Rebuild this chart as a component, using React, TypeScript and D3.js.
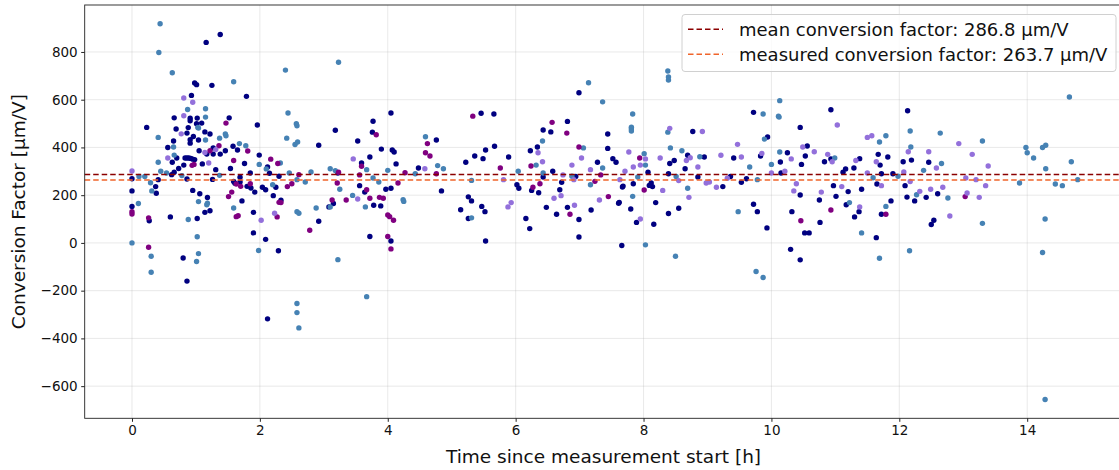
import React, { useEffect, useRef } from 'react';
import * as d3 from 'd3';

// [time in h, conversion factor in µm/V]
const navyPoints: [number, number][] = [
  [1.38,873],[1.16,840],[0.98,670],[1.01,663],[1.25,660],[1.79,614],[0.93,618],[0.66,524],[0.91,522],[0.91,512],
  [1.02,523],[1.52,524],[1.96,494],[0.23,484],[0.69,477],[0.88,483],[1.01,499],[1.09,502],[0.86,460],[1.14,465],
  [1.22,456],[0.96,446],[0.91,432],[0.91,418],[1.04,431],[0.65,427],[0.56,400],[1.58,405],[1.65,389],[1.27,398],
  [1.05,386],[1.17,372],[1.27,372],[1.38,372],[1.46,386],[1.99,368],[0.70,356],[0.83,356],[0.86,356],[0.89,356],
  [0.92,354],[0.95,351],[0.98,349],[0.63,338],[1.76,333],[0.81,326],[1.10,331],[0.73,312],[0.66,296],[1.54,312],
  [1.31,307],[1.26,266],[1.85,293],[2.12,318],[2.15,292],[0,269],[0.62,286],[0.86,268],[0.41,265],[0.37,236],
  [0.38,208],[0,218],[1.59,257],[1.61,250],[1.69,255],[1.69,275],[1.80,237],[1.86,230],[1.92,213],[2.04,233],
  [2.09,223],[2.21,198],[0.95,220],[1.06,206],[1.18,190],[0,153],[0.27,93],[0.60,109],[1.02,102],[1.14,128],
  [1.22,135],[1.72,176],[1.90,128],[1.90,42],[2.09,15],[2.29,-33],[0.80,-63],[0.86,-160],[2.12,-318],
  [3.18,472],[2.92,409],[2.30,279],[2.25,233],[2.33,179],[2.92,91],[3.22,293],[3.15,165],[3.08,151],[3.53,427],
  [3.59,335],[3.72,360],[3.76,464],[3.77,510],[3.56,240],[3.64,213],[3.78,158],[3.89,155],[3.72,27],[3.90,393],
  [4.05,544],[4.07,389],[4.10,381],[4.13,331],[3.97,225],[4.05,229],[4.05,8],[4.48,314],[4.76,431],[4.84,218],
  [5.22,338],[5.14,139],[5.26,193],[5.26,102],
  [5.46,543],[5.66,540],[5.36,364],[5.49,353],[5.53,389],[5.67,405],[5.89,360],[5.31,176],[5.47,153],[5.52,131],
  [5.53,8],[6.02,244],[6.05,229],[6.16,102],[6.22,60],[6.23,386],[6.34,402],[6.25,220],[6.36,210],[6.43,473],
  [6.43,276],[6.48,149],[6.55,465],[6.58,300],[6.64,120],[6.69,223],[6.72,254],[6.81,509],[6.81,149],[6.94,278],
  [6.99,629],[6.99,98],[6.99,25],[7.18,138],[7.28,338],[7.44,456],[7.44,396],[7.52,353],[7.57,338],[7.67,234],
  [7.68,238],[7.61,166],[7.62,170],[7.66,-11],[7.84,248],[7.80,142],[7.89,86],[8.07,296],[8.09,241],[8.12,251],
  [8.14,236],[8.16,78],[8.19,169],
  [8.41,333],[8.48,345],[8.39,290],[8.39,123],[8.55,145],[8.65,311],[8.69,367],[8.77,467],[8.85,276],[8.95,360],
  [9.24,236],[9.36,278],[9.41,356],[9.53,254],[9.61,269],[9.72,547],[9.72,162],[9.78,131],[9.83,364],[9.94,444],
  [9.93,63],[10.14,339],[10.15,293],[10.25,378],[10.32,131],[10.30,-27],[10.45,201],[10.45,484],[10.45,-71],[10.47,329],
  [10.56,406],[10.53,364],[10.52,42],[10.59,42],[10.76,86],[10.75,180],[10.83,340],[10.93,558],[10.93,352],[10.97,240],
  [11.01,195],[11.12,296],[11.16,310],[11.20,215],[11.17,160],
  [11.29,314],[11.38,353],[11.41,225],[11.30,109],[11.37,131],[11.64,22],[11.67,371],[11.70,326],[11.72,290],[11.65,247],
  [11.82,360],[11.87,176],[11.72,120],[11.90,290],[12.06,340],[12.13,554],[12.19,347],[12.09,240],[12.12,192],[12.24,176],
  [12.42,191],[12.46,338],[12.50,77],[12.54,95],[12.60,206],
];

const steelPoints: [number, number][] = [
  [0.44,918],[0.42,798],[0.63,713],[1.59,675],[0.87,559],[1.15,562],[1.15,527],[1.03,484],[1.04,481],[1.15,431],
  [1.37,439],[1.46,456],[1.47,449],[0.41,442],[0.65,402],[1.68,416],[1.78,407],[0.66,368],[0.41,338],[1.99,329],
  [1.37,283],[2.10,310],[0.11,278],[0.20,278],[0.45,300],[0.54,293],[0.78,282],[0.29,252],[0.31,218],[2.20,244],
  [1.04,173],[1.17,160],[1.18,166],[0.10,165],[0.88,98],[1.59,146],[1.98,-32],[1.02,26],[0,0],[0.30,-56],
  [0.30,-123],[1.04,-45],[1.01,-78],
  [2.40,724],[3.23,757],[2.44,544],[2.57,499],[2.58,491],[2.42,439],[2.55,412],[2.59,423],[2.32,335],[2.46,293],
  [2.58,265],[2.71,255],[2.80,297],[2.58,131],[2.61,124],[2.88,146],[3.10,311],[3.18,303],[3.25,225],[3.10,151],
  [3.45,199],[3.67,307],[3.65,151],[3.67,-225],[3.22,-70],[2.58,-254],[2.58,-292],[2.61,-356],[3.77,272],[3.86,255],
  [4.00,304],[4.24,181],[4.25,174],[4.43,290],[4.59,445],[4.78,324],[4.87,311],
  [5.31,262],[5.31,105],[6.04,300],[6.32,326],[6.42,427],[6.43,293],[6.88,279],[7.06,398],[7.14,671],[7.17,244],
  [7.36,314],[7.36,591],[7.83,540],[7.81,485],[7.81,477],[7.81,469],[7.83,195],[7.91,276],[8.01,374],[8.03,326],
  [8.03,-8],
  [8.38,720],[8.39,695],[8.39,682],[8.38,464],[8.42,398],[8.51,278],[8.50,-56],[8.60,386],[8.69,229],[8.88,361],
  [9.48,131],[9.66,318],[9.76,-120],[9.78,265],[9.87,540],[9.87,-145],[9.89,435],[10.00,329],[10.13,596],[10.11,531],
  [10.12,527],[10.13,381],[10.99,356],[11.22,169],
  [11.41,42],[11.59,273],[11.69,423],[11.79,449],[11.79,153],[11.69,-64],[11.98,279],[12.17,469],[12.18,402],[12.16,-33],
  [12.27,202],[12.38,304],[12.66,333],[12.64,460],[12.76,188],[13.30,427],[13.30,82],[13.88,251],[13.98,400],[14.00,378],
  [14.10,356],
  [14.24,400],[14.29,409],[14.29,311],[14.28,100],[14.24,-40],[14.28,-656],[14.44,247],[14.55,240],[14.66,611],[14.69,340],
  [14.79,265],
];

const purplePoints: [number, number][] = [
  [1.47,502],[1.36,407],[1.81,385],[1.22,386],[1.59,345],[2.17,351],[2.28,333],[0.94,325],[0.97,329],[1.63,247],
  [1.70,237],[1.85,248],[1.56,213],[1.51,194],[2.30,170],[2.27,109],[0,131],[0,121],[0.26,105],[1.63,110],
  [1.66,114],[0.26,-18],
  [2.33,169],[2.61,286],[2.43,236],[2.50,248],[2.78,53],[3.23,296],[3.21,251],[3.13,180],[3.35,180],[3.59,321],
  [3.56,285],[3.82,453],[3.67,223],[3.72,187],[3.87,191],[3.93,187],[4.16,251],[4.00,117],[4.03,110],[4.09,95],
  [4.00,27],[4.05,-25],[4.27,294],[4.62,416],[4.59,378],[4.66,364],[4.76,290],
  [5.33,531],[5.76,314],[6.24,322],[6.27,233],[6.38,248],[6.57,505],[6.80,460],[6.85,120],[6.99,402],[7.24,258],
  [7.33,285],[7.45,194],[7.94,356],[8.01,222],
  [10.46,93],[10.93,138],[11.79,120],[13.03,194],
];

const lavenderPoints: [number, number][] = [
  [0.81,607],[0.95,589],[0.81,533],[0.77,457],[1.31,391],[1.14,379],[0.56,356],[1.20,335],[0,301],[2.23,124],
  [2.02,95],[3.46,352],[3.53,184],[4.58,311],
  [5.81,265],[5.88,151],[5.93,169],[6.35,378],[6.42,340],[6.60,187],[6.71,198],[6.74,285],[6.88,326],[6.91,265],
  [6.92,158],[7.03,356],[7.17,307],[7.31,180],[7.63,265],[7.71,300],[7.77,381],[7.84,318],[7.95,100],[7.95,326],
  [8.03,352],[8.26,356],
  [8.41,480],[8.30,220],[8.55,261],[8.67,345],[8.73,357],[8.71,191],[8.85,318],[8.92,467],[8.98,251],[9.03,255],
  [9.14,233],[9.21,367],[9.31,271],[9.47,413],[9.53,360],[9.85,375],[10.00,293],[10.21,300],[10.31,352],[10.35,218],
  [10.39,248],[10.49,402],[10.67,382],[10.78,213],[10.88,371],[10.95,340],[11.03,494],[11.10,236],
  [11.32,345],[11.38,151],[11.50,442],[11.57,449],[11.50,293],[11.64,340],[11.72,240],[12.14,382],[12.07,297],[12.17,257],
  [12.32,216],[12.46,382],[12.49,225],[12.58,314],[12.68,233],[12.79,113],[12.93,416],[13.06,209],[13.04,272],[13.14,371],
  [13.20,265],[13.25,191],[13.35,240],[13.39,322],
];

const meanFactor = 286.8;
const measuredFactor = 263.7;
const xTicks = [0, 2, 4, 6, 8, 10, 12, 14];
const yTicks = [-600, -400, -200, 0, 200, 400, 600, 800];

const series = [
  { points: navyPoints, color: '#000080' },
  { points: steelPoints, color: '#4682b4' },
  { points: purplePoints, color: '#800080' },
  { points: lavenderPoints, color: '#9370db' },
];

const FONT = '"DejaVu Sans", sans-serif';

const App = () => {
  const svgRef = useRef<SVGSVGElement>(null);

  useEffect(() => {
    document.body.style.margin = '0';
    const W = 1119;
    const H = 470;
    const left = 84.7, right = 1125, top = 5, bottom = 418.3;

    const svg = d3.select(svgRef.current);
    svg.selectAll('*').remove();
    svg.attr('width', W).attr('height', H);

    const all = series.flatMap(s => s.points);
    const xMin = d3.min(all, d => d[0])!, xMax = d3.max(all, d => d[0])!;
    const yMin = d3.min(all, d => d[1])!, yMax = d3.max(all, d => d[1])!;
    const xPad = (xMax - xMin) * 0.05, yPad = (yMax - yMin) * 0.05;

    const x = d3.scaleLinear().domain([xMin - xPad, xMax + xPad]).range([left, right]);
    const y = d3.scaleLinear().domain([yMin - yPad, yMax + yPad]).range([bottom, top]);

    // gridlines
    const grid = svg.append('g');
    grid.selectAll('line.gx').data(xTicks).enter().append('line')
      .attr('x1', d => x(d)).attr('x2', d => x(d)).attr('y1', top).attr('y2', bottom)
      .attr('stroke', '#b0b0b0').attr('stroke-opacity', 0.35).attr('stroke-width', 0.8);
    grid.selectAll('line.gy').data(yTicks).enter().append('line')
      .attr('x1', left).attr('x2', right).attr('y1', d => y(d)).attr('y2', d => y(d))
      .attr('stroke', '#b0b0b0').attr('stroke-opacity', 0.35).attr('stroke-width', 0.8);

    // points
    series.forEach(s => {
      svg.append('g').selectAll('circle').data(s.points).enter().append('circle')
        .attr('cx', d => x(d[0])).attr('cy', d => y(d[1])).attr('r', 2.7)
        .attr('fill', s.color);
    });

    // reference lines
    const refs = [
      { v: meanFactor, color: '#8b0000', label: `mean conversion factor: ${meanFactor} µm/V` },
      { v: measuredFactor, color: '#f0642a', label: `measured conversion factor: ${measuredFactor} µm/V` },
    ];
    refs.forEach(r => {
      svg.append('line')
        .attr('x1', left).attr('x2', right).attr('y1', y(r.v)).attr('y2', y(r.v))
        .attr('stroke', r.color).attr('stroke-width', 1.5).attr('stroke-dasharray', '5.5 3');
    });

    // spines
    svg.append('rect')
      .attr('x', left).attr('y', top).attr('width', right - left).attr('height', bottom - top)
      .attr('fill', 'none').attr('stroke', '#222').attr('stroke-width', 0.9);

    // axes
    const xAxis = svg.append('g').attr('transform', `translate(0,${bottom})`)
      .call(d3.axisBottom(x).tickValues(xTicks).tickSize(3.5).tickPadding(3.5).tickFormat(d3.format('d')));
    const yAxis = svg.append('g').attr('transform', `translate(${left},0)`)
      .call(d3.axisLeft(y).tickValues(yTicks).tickSize(3.5).tickPadding(3.5).tickFormat(d => String(d).replace('-', '\u2212')));
    [xAxis, yAxis].forEach(a => {
      a.select('.domain').remove();
      a.selectAll('text').attr('font-family', FONT).attr('font-size', 13.5).attr('fill', '#111');
      a.selectAll('line').attr('stroke', '#222');
    });

    svg.append('text')
      .attr('x', 603.5).attr('y', 463)
      .attr('text-anchor', 'middle').attr('font-family', FONT).attr('font-size', 18.5).attr('fill', '#111')
      .text('Time since measurement start [h]');
    svg.append('text')
      .attr('transform', `translate(25,${(top + bottom) / 2}) rotate(-90)`)
      .attr('text-anchor', 'middle').attr('font-family', FONT).attr('font-size', 18.5).attr('fill', '#111')
      .text('Conversion Factor [µm/V]');

    // legend
    const lg = svg.append('g').attr('transform', 'translate(682,14.5)');
    lg.append('rect').attr('width', 434).attr('height', 57).attr('rx', 3)
      .attr('fill', 'white').attr('fill-opacity', 0.8).attr('stroke', '#d0d0d0');
    refs.forEach((r, i) => {
      const yy = 14.8 + i * 25;
      lg.append('line').attr('x1', 6).attr('x2', 41).attr('y1', yy).attr('y2', yy)
        .attr('stroke', r.color).attr('stroke-width', 1.5).attr('stroke-dasharray', '5.5 3');
      lg.append('text').attr('x', 57).attr('y', yy + 6.3)
        .attr('font-family', FONT).attr('font-size', 18).attr('fill', '#111').text(r.label);
    });
  }, []);

  return <svg ref={svgRef} style={{ display: 'block' }}></svg>;
};

export default App;
